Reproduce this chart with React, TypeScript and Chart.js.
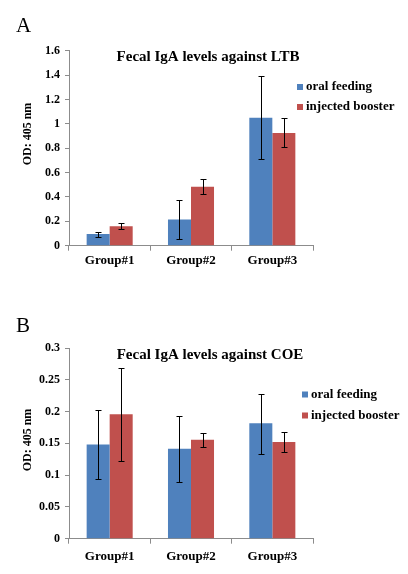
import React, { useEffect, useRef } from "react";
import { Chart, registerables } from "chart.js";

Chart.register(...registerables);

const categories = ["Group#1", "Group#2", "Group#3"];
const seriesNames = ["oral feeding", "injected booster"];

// Panel A: against LTB
const ltbOral = [0.096, 0.216, 1.05];
const ltbOralLow = [0.074, 0.052, 0.708];
const ltbOralHigh = [0.109, 0.372, 1.395];
const ltbBooster = [0.159, 0.484, 0.924];
const ltbBoosterLow = [0.134, 0.421, 0.81];
const ltbBoosterHigh = [0.183, 0.55, 1.045];
const ltbTicks = [0, 0.2, 0.4, 0.6, 0.8, 1, 1.2, 1.4, 1.6];

// Panel B: against COE
const coeOral = [0.148, 0.1416, 0.1815];
const coeOralLow = [0.094, 0.0897, 0.134];
const coeOralHigh = [0.202, 0.1925, 0.228];
const coeBooster = [0.1956, 0.1558, 0.152];
const coeBoosterLow = [0.122, 0.1437, 0.136];
const coeBoosterHigh = [0.268, 0.167, 0.168];
const coeTicks = [0, 0.05, 0.1, 0.15, 0.2, 0.25, 0.3];

const FONT = '"Liberation Serif", "Times New Roman", serif';
const BLUE = "#4F81BD";
const RED = "#C0504D";
const AXIS = "#8c8c8c";

type PanelSpec = {
  letter: string;
  title: string;
  oral: number[];
  oralLow: number[];
  oralHigh: number[];
  booster: number[];
  boosterLow: number[];
  boosterHigh: number[];
  ticks: number[];
  top: number;
  xHeight: number;
  xPad: number;
  titleY: number;
  titleX: number;
  letterY: number;
  legendX: number;
  legendY: number[];
  yTitleY: number;
};

const overlayPlugin = {
  id: "overlay",
  afterDatasetsDraw(chart: any) {
    const ctx = chart.ctx;
    const yScale = chart.scales.y;
    ctx.save();
    ctx.strokeStyle = "#000";
    ctx.lineWidth = 1;
    chart.data.datasets.forEach((ds: any, i: number) => {
      const meta = chart.getDatasetMeta(i);
      meta.data.forEach((bar: any, j: number) => {
        const x = Math.round(bar.x) + 0.5;
        const yl = Math.round(yScale.getPixelForValue(ds.errLow[j])) + 0.5;
        const yh = Math.round(yScale.getPixelForValue(ds.errHigh[j])) + 0.5;
        ctx.beginPath();
        ctx.moveTo(x, yl);
        ctx.lineTo(x, yh);
        ctx.moveTo(x - 3, yl);
        ctx.lineTo(x + 3, yl);
        ctx.moveTo(x - 3, yh);
        ctx.lineTo(x + 3, yh);
        ctx.stroke();
      });
    });
    ctx.restore();
  },
  afterDraw(chart: any) {
    const ctx = chart.ctx;
    const p: PanelSpec = chart.options.plugins.overlay.panel;
    ctx.save();
    ctx.fillStyle = "#000";
    // Panel letter
    ctx.font = `21px ${FONT}`;
    ctx.textAlign = "left";
    ctx.textBaseline = "top";
    ctx.fillText(p.letter, 16, p.letterY);
    // Title
    ctx.font = `bold 15px ${FONT}`;
    ctx.textAlign = "center";
    ctx.textBaseline = "middle";
    ctx.fillText(p.title, p.titleX, p.titleY);
    // Y axis title
    ctx.save();
    ctx.translate(28, p.yTitleY);
    ctx.rotate(-Math.PI / 2);
    ctx.font = `bold 12px ${FONT}`;
    ctx.fillText("OD: 405 nm", 0, 0);
    ctx.restore();
    // Legend
    ctx.font = `bold 13px ${FONT}`;
    ctx.textAlign = "left";
    chart.data.datasets.forEach((ds: any, i: number) => {
      const y = p.legendY[i];
      ctx.fillStyle = ds.backgroundColor;
      ctx.fillRect(p.legendX, y - 3, 6, 6);
      ctx.fillStyle = "#000";
      ctx.fillText(ds.label, p.legendX + 9, y);
    });
    ctx.restore();
  },
};

function Panel({ spec }: { spec: PanelSpec }) {
  const ref = useRef<HTMLCanvasElement | null>(null);
  useEffect(() => {
    if (!ref.current) return;
    const chart = new Chart(ref.current, {
      type: "bar",
      data: {
        labels: categories,
        datasets: [
          {
            label: seriesNames[0],
            data: spec.oral,
            backgroundColor: BLUE,
            errLow: spec.oralLow,
            errHigh: spec.oralHigh,
          } as any,
          {
            label: seriesNames[1],
            data: spec.booster,
            backgroundColor: RED,
            errLow: spec.boosterLow,
            errHigh: spec.boosterHigh,
          } as any,
        ],
      },
      options: {
        responsive: false,
        animation: false,
        devicePixelRatio: 1,
        datasets: {
          bar: { categoryPercentage: 0.566, barPercentage: 1.0 },
        },
        layout: { padding: { left: 0, right: 95, top: spec.top, bottom: 0 } },
        plugins: {
          legend: { display: false },
          title: { display: false },
          tooltip: { enabled: false },
          overlay: { panel: spec },
        } as any,
        scales: {
          x: {
            grid: {
              display: true,
              drawOnChartArea: false,
              drawTicks: true,
              tickLength: 5,
              color: AXIS,
              offset: true,
            },
            border: { display: true, color: AXIS, width: 1 },
            ticks: {
              color: "#000",
              padding: spec.xPad,
              font: { family: FONT, size: 13, weight: "bold" },
            },
            afterFit: (scale: any) => {
              scale.height = spec.xHeight;
            },
          },
          y: {
            min: spec.ticks[0],
            max: spec.ticks[spec.ticks.length - 1],
            grid: {
              display: true,
              drawOnChartArea: false,
              drawTicks: true,
              tickLength: 4,
              color: AXIS,
            },
            border: { display: true, color: AXIS, width: 1 },
            ticks: {
              color: "#000",
              padding: 5,
              font: { family: FONT, size: 12, weight: "bold" },
              callback: (v: any) => String(v),
            },
            afterBuildTicks: (scale: any) => {
              scale.ticks = spec.ticks.map((v) => ({ value: v }));
            },
            afterFit: (scale: any) => {
              scale.width = 69;
            },
          },
        },
      } as any,
      plugins: [overlayPlugin],
    });
    return () => chart.destroy();
  }, [spec]);
  return <canvas ref={ref} width={408} height={287} style={{ display: "block" }} />;
}

const panelA: PanelSpec = {
  letter: "A",
  title: "Fecal IgA levels against LTB",
  oral: ltbOral,
  oralLow: ltbOralLow,
  oralHigh: ltbOralHigh,
  booster: ltbBooster,
  boosterLow: ltbBoosterLow,
  boosterHigh: ltbBoosterHigh,
  ticks: ltbTicks,
  top: 50.7,
  xHeight: 41.3,
  xPad: 2,
  titleY: 57,
  titleX: 208,
  letterY: 16,
  legendX: 297,
  legendY: [87, 107],
  yTitleY: 134,
};

const panelB: PanelSpec = {
  letter: "B",
  title: "Fecal IgA levels against COE",
  oral: coeOral,
  oralLow: coeOralLow,
  oralHigh: coeOralHigh,
  booster: coeBooster,
  boosterLow: coeBoosterLow,
  boosterHigh: coeBoosterHigh,
  ticks: coeTicks,
  top: 61,
  xHeight: 35.3,
  xPad: 5,
  titleY: 68,
  titleX: 210,
  letterY: 29,
  legendX: 302,
  legendY: [107.5, 128.5],
  yTitleY: 153,
};

export default function App() {
  return (
    <div
      style={{
        position: "absolute",
        left: 0,
        top: 0,
        width: 408,
        height: 574,
        background: "#fff",
      }}
    >
      <Panel spec={panelA} />
      <Panel spec={panelB} />
    </div>
  );
}
